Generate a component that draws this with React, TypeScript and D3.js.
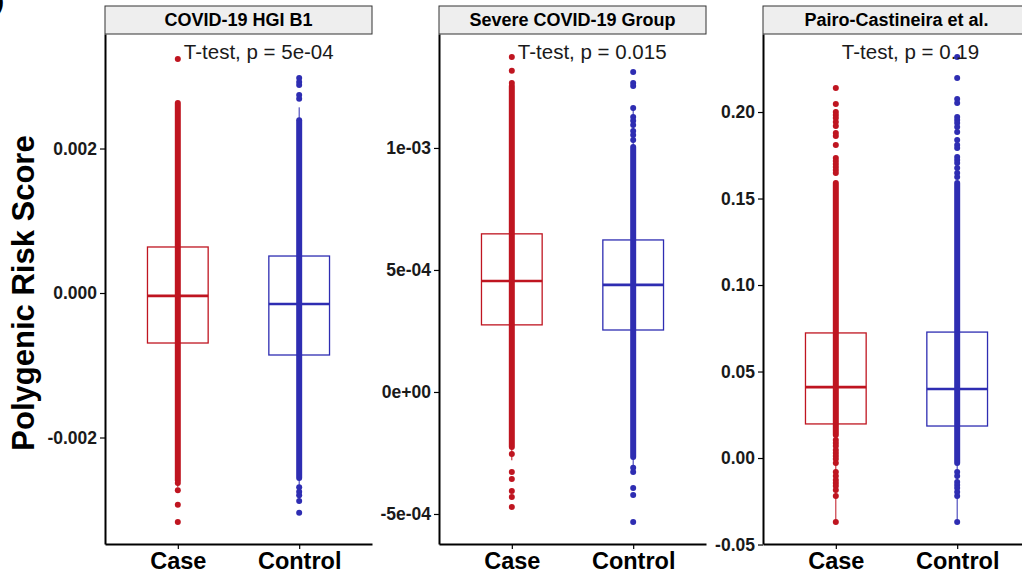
import React, { useEffect, useRef } from "react";
import * as d3 from "d3";

// categories and panel text
const groups = ["Case", "Control"];
const panelTitles = ["COVID-19 HGI B1", "Severe COVID-19 Group", "Pairo-Castineira et al."];
const pLabels = ["T-test, p = 5e-04", "T-test, p = 0.015", "T-test, p = 0.19"];

// y axis limits and ticks per panel
const yDomains = [
  [-0.003474, 0.003585],
  [-0.000623, 0.001467],
  [-0.0497, 0.2451],
];
const yTicks = [
  [-0.002, 0, 0.002],
  [-5e-4, 0, 5e-4, 1e-3],
  [-0.05, 0, 0.05, 0.1, 0.15, 0.2],
];
const yTickLabels = [
  ["-0.002", "0.000", "0.002"],
  ["-5e-04", "0e+00", "5e-04", "1e-03"],
  ["-0.05", "0.00", "0.05", "0.10", "0.15", "0.20"],
];

// box stats, [case, control] per panel
const boxQ1 = [[-0.000692, -0.000858], [0.000275, 0.000254], [0.0197, 0.0185]];
const boxMedian = [[-0.00004, -0.000152], [0.000455, 0.000439], [0.041, 0.0399]];
const boxQ3 = [[0.000637, 0.000512], [0.000648, 0.000623], [0.0723, 0.0728]];
const whiskerLow = [[-0.00269, -0.00291], [-0.00028, -0.0003], [-0.037, -0.037]];
const whiskerHigh = [[0.00263, 0.00257], [0.00121, 0.00117], [0.15, 0.154]];

// range where the individual scores overlap into a solid column
const denseLow = [[-0.00259, -0.00256], [-0.000225, -0.000266], [0.0133, -0.0029]];
const denseHigh = [[0.00263, 0.00239], [0.001254, 0.001004], [0.159, 0.159]];

// sparse individual scores outside the solid column
const scoresHgiCase = [0.00324, -0.00263, -0.00273, -0.00293, -0.00317];
const scoresHgiControl = [0.002976, 0.00292, 0.00288, 0.00274, 0.00269, -0.00269, -0.00275, -0.0028, -0.00288, -0.00304];
const scoresSevereCase = [0.001373, 0.001316, 0.001266, -0.000254, -0.000328, -0.000357, -0.000406, -0.00043, -0.000471];
const scoresSevereControl = [0.001311, 0.001266, 0.001254, 0.001164, 0.001127, 0.001111, 0.001094, 0.00107, 0.001053, 0.001033,
  -0.000311, -0.000328, -0.000393, -0.000422, -0.000533];
const scoresPairoCase = [0.2139, 0.2046, 0.2, 0.1983, 0.1965, 0.1942, 0.1919, 0.1879, 0.1861, 0.1809, 0.1734, 0.1717, 0.1699,
  0.1682, 0.1665, 0.1647, 0.0104, 0.0087, 0.0069, 0.0046, 0.0029, 0.0012, -0.0006, -0.0029, -0.0081, -0.0104, -0.0127,
  -0.0145, -0.0162, -0.0185, -0.022, -0.037];
const scoresPairoControl = [0.2318, 0.2197, 0.2075, 0.2052, 0.1971, 0.1954, 0.1936, 0.1913, 0.1884, 0.1838, 0.1809, 0.1792,
  0.174, 0.1723, 0.1705, 0.1676, 0.1647, 0.1624, -0.0081, -0.0104, -0.0139, -0.0156, -0.0173, -0.0197, -0.022, -0.037];
const scores = [
  [scoresHgiCase, scoresHgiControl],
  [scoresSevereCase, scoresSevereControl],
  [scoresPairoCase, scoresPairoControl],
];

const colors = ["#BF1520", "#2E2DB2"];
const FONT = "'Liberation Sans', Arial, sans-serif";

const App = () => {
  const ref = useRef(null);
  const width = 1022;
  const height = 576;

  useEffect(() => {
    const svg = d3.select(ref.current);
    svg.selectAll("*").remove();

    const panelLeft = [105, 439, 763];
    const panelWidth = 267;
    const top = 34;
    const bottom = 544;
    const stripTop = 6;

    panelTitles.forEach((title, i) => {
      const left = panelLeft[i];
      const g = svg.append("g").style("font-family", FONT);

      const x = d3.scalePoint().domain(groups).range([left, left + panelWidth]).padding(0.6);
      const y = d3.scaleLinear().domain(yDomains[i]).range([bottom, top]);
      const bw = x.step() * 0.5;

      // strip header
      g.append("rect")
        .attr("x", left)
        .attr("y", stripTop)
        .attr("width", panelWidth)
        .attr("height", top - stripTop)
        .attr("fill", "#EEEEEE")
        .attr("stroke", "#333")
        .attr("stroke-width", 1);
      g.append("text")
        .attr("x", left + panelWidth / 2)
        .attr("y", stripTop + (top - stripTop) / 2)
        .attr("dy", "0.36em")
        .attr("text-anchor", "middle")
        .style("font-weight", "bold")
        .style("font-size", "18px")
        .text(title);

      groups.forEach((grp, j) => {
        const cx = x(grp);
        const col = colors[j];

        // whiskers
        g.append("line")
          .attr("x1", cx).attr("x2", cx)
          .attr("y1", y(boxQ3[i][j])).attr("y2", y(whiskerHigh[i][j]))
          .attr("stroke", col).attr("stroke-width", 1);
        g.append("line")
          .attr("x1", cx).attr("x2", cx)
          .attr("y1", y(boxQ1[i][j])).attr("y2", y(whiskerLow[i][j]))
          .attr("stroke", col).attr("stroke-width", 1);

        // box
        g.append("rect")
          .attr("x", cx - bw / 2)
          .attr("y", y(boxQ3[i][j]))
          .attr("width", bw)
          .attr("height", y(boxQ1[i][j]) - y(boxQ3[i][j]))
          .attr("fill", "none")
          .attr("stroke", col)
          .attr("stroke-width", 1.3);
        g.append("line")
          .attr("x1", cx - bw / 2).attr("x2", cx + bw / 2)
          .attr("y1", y(boxMedian[i][j])).attr("y2", y(boxMedian[i][j]))
          .attr("stroke", col).attr("stroke-width", 2.6);

        // overlapping points form a solid column
        g.append("line")
          .attr("x1", cx).attr("x2", cx)
          .attr("y1", y(denseLow[i][j])).attr("y2", y(denseHigh[i][j]))
          .attr("stroke", col)
          .attr("stroke-width", 6)
          .attr("stroke-linecap", "round");

        g.append("g")
          .selectAll("circle")
          .data(scores[i][j])
          .join("circle")
          .attr("cx", cx)
          .attr("cy", (d) => y(d))
          .attr("r", 3)
          .attr("fill", col);
      });

      // p value label
      g.append("text")
        .attr("x", x(groups[0]) + 6)
        .attr("y", 59)
        .style("font-size", "20.5px")
        .style("fill", "#1a1a1a")
        .text(pLabels[i]);

      // y axis
      const ya = g.append("g")
        .attr("transform", `translate(${left},0)`)
        .call(
          d3.axisLeft(y)
            .tickValues(yTicks[i])
            .tickFormat((d, k) => yTickLabels[i][k])
            .tickSize(5)
            .tickSizeOuter(0)
            .tickPadding(3)
        );
      ya.select(".domain").attr("stroke", "#000").attr("stroke-width", 2);
      ya.selectAll("line").attr("stroke", "#000").attr("stroke-width", 1.2);
      ya.selectAll("text")
        .style("font-family", FONT)
        .style("font-weight", "bold")
        .style("font-size", "17.5px")
        .attr("fill", "#1a1a1a");

      // x axis
      const xa = g.append("g")
        .attr("transform", `translate(0,${bottom})`)
        .call(d3.axisBottom(x).tickSize(5).tickSizeOuter(0).tickPadding(3));
      xa.select(".domain").attr("stroke", "#000").attr("stroke-width", 2);
      xa.selectAll("line").attr("stroke", "#000").attr("stroke-width", 1.2);
      xa.selectAll("text")
        .style("font-family", FONT)
        .style("font-weight", "bold")
        .style("font-size", "23.5px")
        .attr("fill", "#000");
    });

    // shared y title
    svg.append("text")
      .attr("transform", "translate(34,293) rotate(-90)")
      .attr("text-anchor", "middle")
      .style("font-family", FONT)
      .style("font-weight", "bold")
      .style("font-size", "31px")
      .text("Polygenic Risk Score");

    // clipped panel letter at the corner
    svg.append("text")
      .attr("x", -4)
      .attr("y", 9)
      .style("font-family", FONT)
      .style("font-weight", "bold")
      .style("font-size", "24px")
      .text(")");
  }, []);

  return (
    <svg
      ref={ref}
      width={width}
      height={height}
      style={{ position: "absolute", left: 0, top: 0, background: "#fff" }}
    ></svg>
  );
};

export default App;
